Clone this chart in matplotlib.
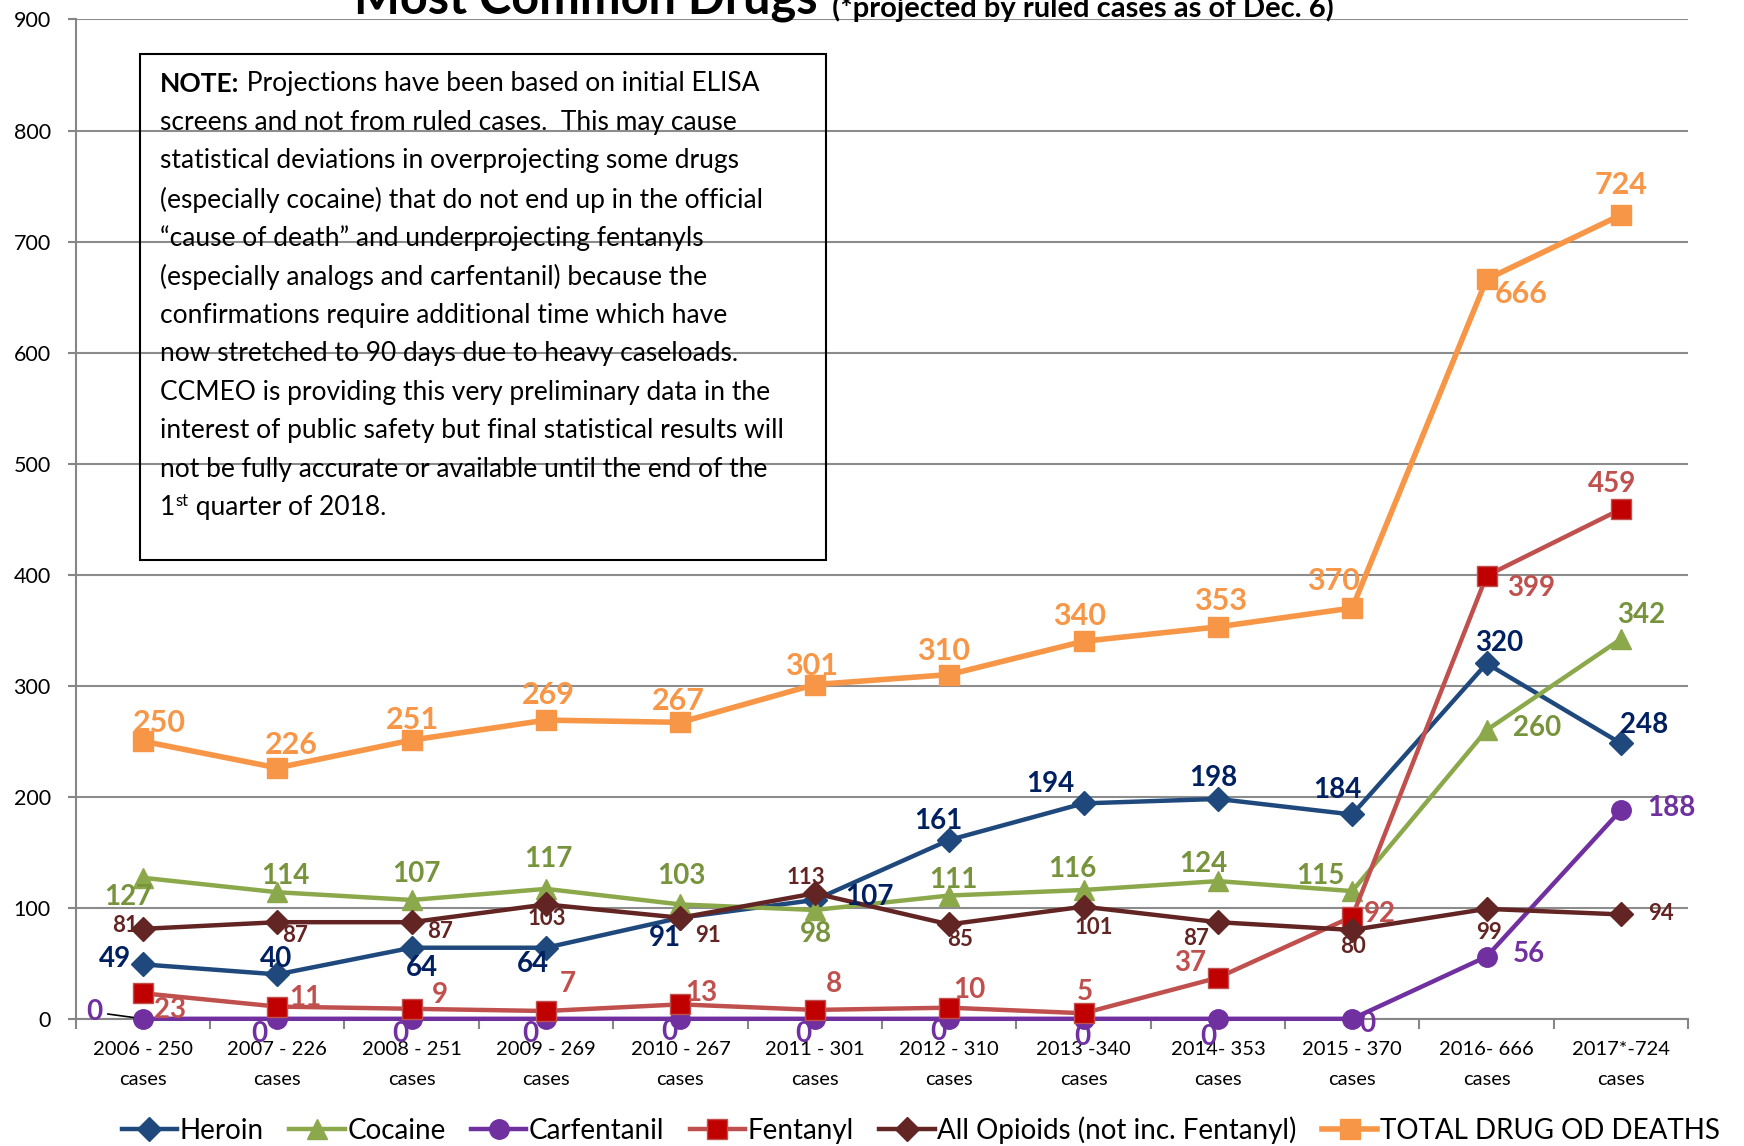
import matplotlib
matplotlib.use("Agg")
import matplotlib.pyplot as plt

plt.rcParams['font.family'] = ['Lato', 'DejaVu Sans']

# data
categories = ["2006 - 250\ncases", "2007 - 226\ncases", "2008 - 251\ncases",
              "2009 - 269\ncases", "2010 - 267\ncases", "2011 - 301\ncases",
              "2012 - 310\ncases", "2013 -340\ncases", "2014- 353\ncases",
              "2015 - 370\ncases", "2016- 666\ncases", "2017*-724\ncases"]
heroin = [49, 40, 64, 64, 91, 107, 161, 194, 198, 184, 320, 248]
cocaine = [127, 114, 107, 117, 103, 98, 111, 116, 124, 115, 260, 342]
carfentanil = [0, 0, 0, 0, 0, 0, 0, 0, 0, 0, 56, 188]
fentanyl = [23, 11, 9, 7, 13, 8, 10, 5, 37, 92, 399, 459]
opioids = [81, 87, 87, 103, 91, 113, 85, 101, 87, 80, 99, 94]
total = [250, 226, 251, 269, 267, 301, 310, 340, 353, 370, 666, 724]

note_lines = [
    "screens and not from ruled cases.  This may cause",
    "statistical deviations in overprojecting some drugs",
    "(especially cocaine) that do not end up in the official",
    "\u201ccause of death\u201d and underprojecting fentanyls",
    "(especially analogs and carfentanil) because the",
    "confirmations require additional time which have",
    "now stretched to 90 days due to heavy caseloads.",
    "CCMEO is providing this very preliminary data in the",
    "interest of public safety but final statistical results will",
    "not be fully accurate or available until the end of the",
]

# label offsets (pixels in the reference, roughly)
off_total = [(15, 16), (13, 21), (1, 18), (2, 23), (-2, 19), (-3, 17), (-5, 21),
             (-4, 23), (2, 23), (-17, 24), (31, -13), (0, 27)]
off_cocaine = [(-13, -17), (7, 15), (4, 23), (2, 27), (1, 26), (1, -22), (4, 14),
               (-10, 19), (-13, 15), (-29, 14), (45, 2), (18, 22)]
off_heroin = [(-25, 5), (-1, 14), (9, -18), (-12, -15), (-14, -18), (49, 3),
              (-10, 17), (-30, 17), (-4, 19), (-13, 22), (11, 18), (21, 17)]
off_fent = [(24, -15), (25, 8), (25, 12), (20, 24), (19, 10), (17, 23), (18, 16),
            (1, 19), (-25, 13), (25, 2), (40, -11), (-8, 23)]
off_carf = [(-44, 6), (-16, -14), (-10, -14), (-14, -14), (-10, -12), (-10, -14),
            (-10, -12), (-1, -16), (-9, -16), (14, -5), (38, 2), (45, 2)]
off_opi = [(-16, 3), (16, -12), (26, -8), (1, -13), (25, -16), (-8, 14), (10, -14),
           (9, -19), (-20, -15), (1, -15), (2, -21), (36, 1)]

x = list(range(len(categories)))

fig = plt.figure(figsize=(17.44, 11.46), dpi=100)
ax = fig.add_axes([0.0434, 0.111, 0.9246, 0.872])

series = [
    ("Heroin", heroin, '#1F497D', '#1F497D', 'D', 12, 3.2, '#002060', 20, off_heroin),
    ("Cocaine", cocaine, '#8BA84B', '#8BA84B', '^', 15, 3.2, '#77933C', 20, off_cocaine),
    ("Carfentanil", carfentanil, '#7030A0', '#7030A0', 'o', 14, 3.2, '#7030A0', 20, off_carf),
    ("Fentanyl", fentanyl, '#C0504D', '#C00000', 's', 14, 3.2, '#C0504D', 20, off_fent),
    ("All Opioids (not inc. Fentanyl)", opioids, '#632523', '#632523', 'D', 12, 3.2, '#632523', 16, off_opi),
    ("TOTAL DRUG OD DEATHS", total, '#F79646', '#F79646', 's', 15, 4.0, '#F79646', 22, off_total),
]

handles = []
for name, vals, lc, fc, mk, ms, lw, tc, fs, offs in series:
    ln, = ax.plot(x, vals, color=lc, marker=mk, markersize=ms, markerfacecolor=fc,
                  markeredgecolor=lc, linewidth=lw, clip_on=False, label=name, zorder=3)
    handles.append(ln)
    for i, v in enumerate(vals):
        dx, dy = offs[i]
        kw = {}
        if name == "Carfentanil" and i == 0:
            kw = dict(arrowprops=dict(arrowstyle='-', color='black', lw=1.2,
                                      shrinkA=2, shrinkB=7))
        ax.annotate(str(v), xy=(i, v), xytext=(dx * 0.8, dy * 0.8),
                    textcoords='offset points', ha='center', va='center',
                    color=tc, fontsize=fs, fontweight='bold', zorder=5, **kw)

ax.set_xlim(-0.5, 11.5)
ax.set_ylim(0, 900)
ax.set_yticks(range(0, 901, 100))
ax.set_xticks(x)
ax.set_xticklabels(categories, fontsize=14.5, linespacing=1.9)
ax.set_xticks([i - 0.5 for i in range(13)], minor=True)
ax.tick_params(axis='x', which='major', length=0, pad=16)
ax.tick_params(axis='x', which='minor', length=7, color='#868686', width=1.5)
ax.tick_params(axis='y', length=6, color='#868686', width=1.5, labelsize=15.5, pad=12)
ax.grid(axis='y', color='#8C8C8C', linewidth=1.5)
ax.set_axisbelow(True)
for s in ['top', 'right']:
    ax.spines[s].set_visible(False)
for s in ['left', 'bottom']:
    ax.spines[s].set_color('#868686')
    ax.spines[s].set_linewidth(1.5)

# note box
nfs = 19
ax.add_patch(plt.Rectangle((-0.02, 413), 5.106, 456, fill=False, edgecolor='black',
                           linewidth=1.5, zorder=4))
tx = 0.13
t0 = ax.text(tx, 842, "NOTE:", fontsize=nfs, fontweight='bold', va='center', zorder=5)
ax.annotate(" Projections have been based on initial ELISA", xy=(1, 0.5), xycoords=t0,
            va='center', fontsize=nfs, zorder=5)
for k, line in enumerate(note_lines):
    ax.text(tx, 842 - 34.7 * (k + 1), line, fontsize=nfs, va='center', zorder=5)
t1 = ax.text(tx, 842 - 34.7 * 11, "1", fontsize=nfs, va='center', zorder=5)
ax.annotate("st", xy=(1, 0.75), xycoords=t1, va='center', fontsize=12, zorder=5)
ax.annotate(" quarter of 2018.", xy=(1, 0.5), xycoords=t1, xytext=(10, 0),
            textcoords='offset points', va='center', fontsize=nfs, zorder=5)

# title (cut off at the top like the original)
tt = fig.text(0.203, 1 - 14 / 1146, "Most Common Drugs", fontsize=35, fontweight='bold',
              va='baseline', ha='left')
ax.annotate("  (*projected by ruled cases as of Dec. 6)", xy=(1, 0), xycoords=tt,
            va='bottom', fontsize=21, fontweight='bold', annotation_clip=False)

fig.legend(handles=handles, loc='center', bbox_to_anchor=(0.528, 0.014), ncol=6,
           frameon=False, fontsize=20, handlelength=2.0, handletextpad=0.1,
           columnspacing=0.9, borderaxespad=0)

fig.savefig("out.png", dpi=100)
